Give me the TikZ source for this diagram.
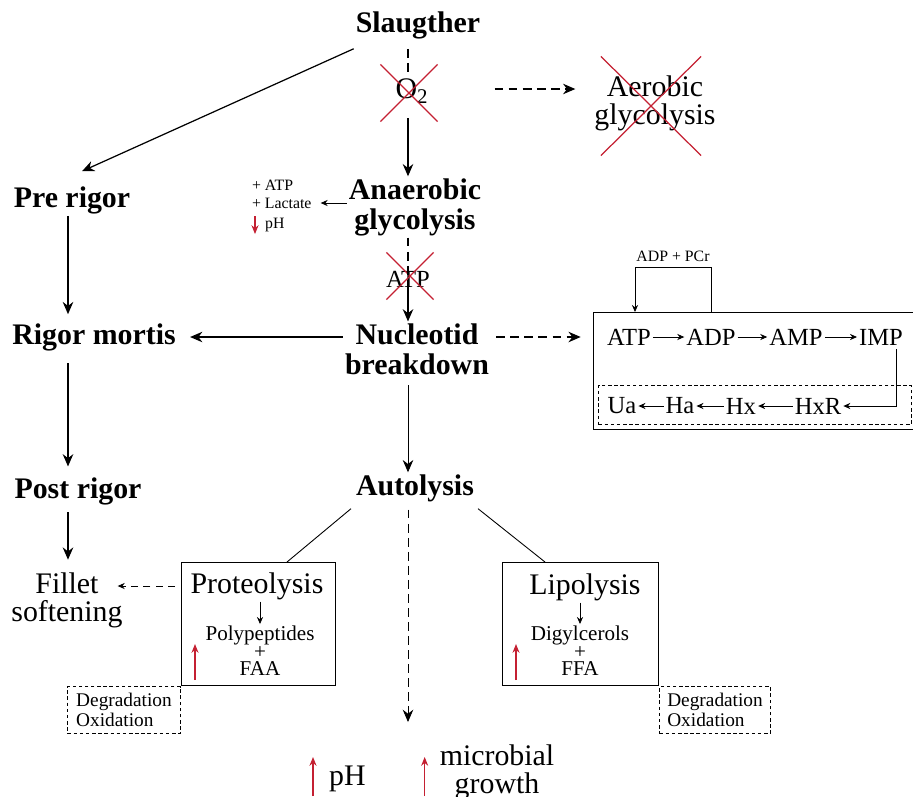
\documentclass[tikz,border=0pt]{standalone}
\usepackage{fontspec}
\setmainfont{Liberation Serif}
\usetikzlibrary{arrows.meta, positioning, calc, shapes.misc}
\definecolor{xred}{RGB}{196,32,50}
\tikzset{
  headline/.style={font=\fontsize{17}{17}\selectfont\bfseries, align=center, inner sep=1pt},
  bigtext/.style={font=\fontsize{17}{16}\selectfont, align=center, inner sep=1pt},
  midtext/.style={font=\fontsize{14}{14}\selectfont, inner sep=1pt},
  smalltext/.style={font=\fontsize{12}{10}\selectfont, align=center, inner sep=1pt},
  tinytext/.style={font=\fontsize{9}{11}\selectfont, inner sep=1pt},
  strike/.style={cross out, draw=xred, line width=0.7pt, inner sep=0pt},
  flow/.style={line width=0.7pt, -{Stealth[length=7pt,width=6pt]}},
  dashline/.style={line width=0.7pt, dash pattern=on 5pt off 3pt},
  dashflow/.style={flow, dash pattern=on 5pt off 3pt},
  thinflow/.style={line width=0.5pt, -{Stealth[length=4pt,width=3.5pt]}},
  redflow/.style={line width=0.6pt, draw=xred, -{Stealth[length=5pt,width=4pt]}},
  boxframe/.style={draw, line width=0.6pt, inner sep=0pt},
  dashframe/.style={draw, line width=0.6pt, dash pattern=on 2pt off 1.5pt, align=left, inner sep=2pt, font=\fontsize{11}{11.5}\selectfont},
}
\begin{document}
\begin{tikzpicture}[x=0.02cm, y=-0.02cm]
  \useasboundingbox (0,0) rectangle (913,796);
  \coordinate (spine)   at (408,0);
  \coordinate (leftcol) at (68,0);
  \coordinate (sink)    at (408,722);

  % main chain
  \node[headline] (SLA) at (418,25)  {Slaugther};
  \node[bigtext]  (OXY) at (412,91)  {O\textsubscript{2}};
  \node[strike, minimum size=1.12cm] (OXYx) at (409,93) {};
  \node[bigtext]  (AER) at (655,103) {Aerobic\\glycolysis};
  \node[strike, minimum width=1.98cm, minimum height=1.96cm] (AERx) at (651,106) {};
  \node[headline] (PRE) at (72,200)  {Pre rigor};
  \node[headline] (ANA) at (415,207) {Anaerobic\\glycolysis};
  \node[tinytext, anchor=west] (GAIN) at (250,185) {+ ATP};
  \node[tinytext, anchor=west] (LAC)  at (250,203) {+ Lactate};
  \node[tinytext, anchor=west] (PHD)  at (263,225) {pH};
  \node[midtext]  (ATP) at (408,279) {ATP};
  \node[strike, minimum size=0.92cm] (ATPx) at (410,276) {};
  \node[headline] (NUC) at (417,349) {Nucleotid\\breakdown};
  \node[headline] (RIG) at (94,337)  {Rigor mortis};
  \node[headline] (POS) at (78,491)  {Post rigor};
  \node[headline] (AUT) at (415,488) {Autolysis};
  \node[bigtext]  (FIL) at (67,600)  {Fillet\\softening};

  % nucleotide pathway
  \node[boxframe, anchor=north west, minimum width=6.5cm, minimum height=2.34cm] (PATH) at (593,312) {};
  \node[draw, line width=0.6pt, dash pattern=on 2pt off 1.5pt, anchor=north west, minimum width=6.26cm, minimum height=0.78cm, inner sep=0pt] (SALV) at (598,385) {};
  \node[tinytext] (PCR) at (673,256) {ADP + PCr};
  \node[midtext] (ATP1) at (629,337) {ATP};
  \node[midtext] (ADP1) at (711,337) {ADP};
  \node[midtext] (AMP1) at (796,337) {AMP};
  \node[midtext] (IMP1) at (881,337) {IMP};
  \node[midtext] (UA)   at (622,406) {Ua};
  \node[midtext] (HA)   at (680,406) {Ha};
  \node[midtext] (HX)   at (741,406) {Hx};
  \node[midtext] (HXR)  at (818,406) {HxR};

  % autolysis branches
  \node[boxframe, anchor=north west, minimum width=3.08cm, minimum height=2.46cm] (PRO) at (181,562) {};
  \node[bigtext]   (PROT) at (257,586) {Proteolysis};
  \node[smalltext] (POLY) at (260,651) {Polypeptides\\+\\FAA};
  \node[dashframe, anchor=north east, minimum width=2.26cm, minimum height=0.94cm] (DEG1) at (PRO.south west) {Degradation\\Oxidation};
  \node[boxframe, anchor=north west, minimum width=3.12cm, minimum height=2.46cm] (LIP) at (502,562) {};
  \node[bigtext]   (LIPT) at (585,587) {Lipolysis};
  \node[smalltext] (DIG)  at (580,651) {Digylcerols\\+\\FFA};
  \node[dashframe, anchor=north west, minimum width=2.22cm, minimum height=0.94cm] (DEG2) at (LIP.south east) {Degradation\\Oxidation};
  \node[bigtext, anchor=west] (PHU) at (327,779) {pH};
  \node[bigtext] (MIC) at (497,772) {microbial\\growth};

  % connectors
  \draw[dashline] ($(SLA.south -| spine)+(0,8)$) -- ($(OXYx.center -| spine)+(0,-20)$);
  \draw[flow] ($(OXYx.center -| spine)+(0,25)$) -- (ANA.north -| spine);
  \draw[dashflow] ($(OXYx.east)+(57,-4)$) -- ($(AER.west)+(-17,-14)$);
  \draw[flow] ($(SLA.south west)+(0,8)$) -- ($(PRE.north)+(10,-13)$);
  \draw[flow, shorten >=4pt] (PRE.south -| leftcol) -- (RIG.north -| leftcol);
  \draw[flow, shorten <=6pt, shorten >=5pt] (RIG.south -| leftcol) -- (POS.north -| leftcol);
  \draw[flow, shorten <=3pt, shorten >=6pt] (POS.south -| leftcol) -- (FIL.north -| leftcol);
  \draw[thinflow, shorten >=4pt] (ANA.west |- LAC) -- (LAC.east);
  \draw[redflow] ($(PHD.west)+(-8,-9)$) -- ++(0,18);
  \draw[dashline] (ANA.south -| spine) -- ($(ATPx.center -| spine)+(0,12)$);
  \draw[flow] ($(ATPx.center -| spine)+(0,12)$) -- (NUC.north -| spine);
  \draw[flow, shorten >=7pt] (NUC.west |- RIG) -- (RIG.east);
  \draw[dashflow, shorten <=3pt, shorten >=7pt] (NUC.east |- RIG) -- (PATH.west |- RIG);
  \draw[flow, line width=0.5pt, shorten <=5pt] (NUC.south -| spine) -- (AUT.north -| spine);

  \draw[thinflow] ($(PATH.north west)+(118,0)$) -- ++(0,-45) -| ($(PATH.north west)+(42,0)$);
  \draw[thinflow] (ATP1) -- (ADP1);
  \draw[thinflow] (ADP1) -- (AMP1);
  \draw[thinflow] (AMP1) -- (IMP1);
  \draw[thinflow] ($(IMP1.south east)+(-9,2)$) |- (HXR.east);
  \draw[thinflow] (HXR) -- (HX);
  \draw[thinflow] (HX) -- (HA);
  \draw[thinflow] (HA) -- (UA);

  \draw[line width=0.5pt] ($(AUT.south west)+(-3,5)$) -- ($(PRO.north west)+(106,0)$);
  \draw[line width=0.5pt] ($(AUT.south east)+(2,5)$) -- ($(LIP.north west)+(43,0)$);
  \draw[dashflow, line width=0.5pt] ($(AUT.south -| spine)+(0,6)$) -- (sink);
  \draw[thinflow, dash pattern=on 4pt off 3pt] ($(PRO.west |- PROT)+(-6,0)$) -- ($(FIL.east |- PROT)+(-7,0)$);
  \draw[thinflow] (PROT.south -| POLY) -- (POLY.north);
  \draw[thinflow] (LIPT.south -| DIG) -- (DIG.north);
  \draw[redflow] ($(PRO.south west)+(14,-6)$) -- ++(0,-36);
  \draw[redflow] ($(LIP.south west)+(14,-6)$) -- ++(0,-36);
  \draw[redflow] ($(PHU.west)+(-14,17)$) -- ++(0,-39);
  \draw[redflow] ($(MIC.west)+(-13,24)$) -- ++(0,-39);
\end{tikzpicture}
\end{document}
